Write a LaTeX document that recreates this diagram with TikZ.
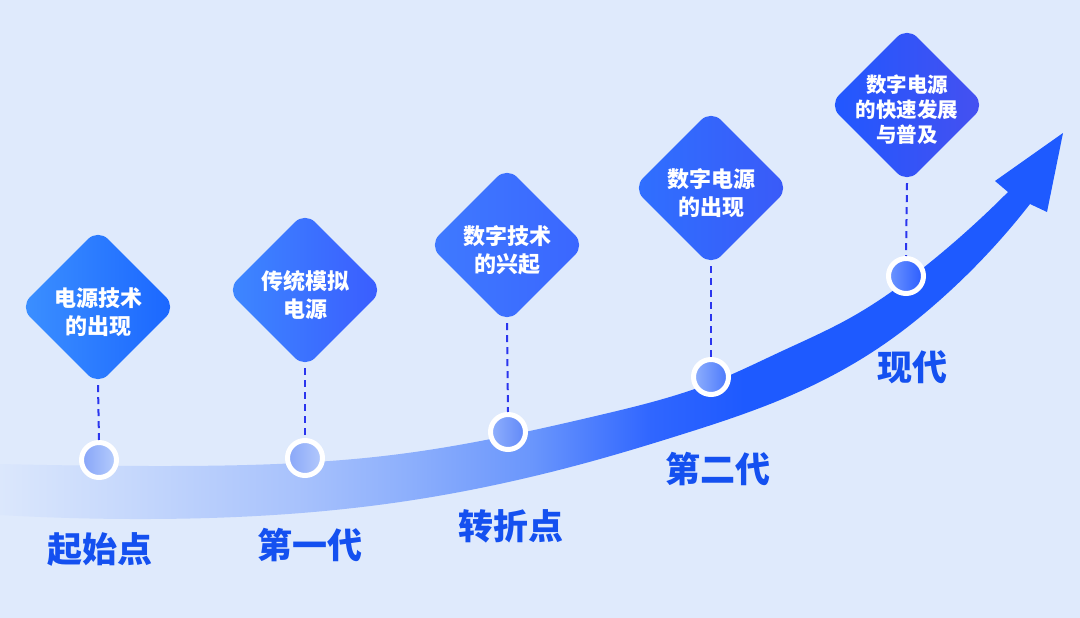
\documentclass[tikz,border=0pt]{standalone}
\usepackage{fontspec}
\newfontfamily\cjk{Noto Sans CJK SC}
\usetikzlibrary{shapes.geometric,hobby}
\usepackage{xcolor}
\definecolor{bgblue}{RGB}{223,234,252}
\definecolor{erablue}{RGB}{20,80,240}
\definecolor{stemblue}{RGB}{42,53,238}
\definecolor{bandA}{RGB}{219,231,252}
\definecolor{bandB}{RGB}{198,216,252}
\definecolor{bandC}{RGB}{168,194,252}
\definecolor{bandD}{RGB}{142,176,252}
\definecolor{bandE}{RGB}{106,150,252}
\definecolor{bandF}{RGB}{48,102,255}
\definecolor{bandG}{RGB}{30,90,255}
\pgfdeclarehorizontalshading{bandshade}{100bp}{color(0bp)=(bandA); color(25bp)=(bandA); color(31bp)=(bandB); color(39bp)=(bandC); color(44bp)=(bandD); color(50bp)=(bandE); color(55.6bp)=(bandF); color(60bp)=(bandG); color(100bp)=(bandG)}

\begin{document}
\begin{tikzpicture}[x=1pt, y=-1pt,
  gem/.style={diamond, minimum size=156pt, inner sep=0pt, rounded corners=14pt, shading angle=-45},
  gemtext/.style={text=white, font=\cjk\bfseries\fontsize{22}{28}\selectfont, align=center, yshift=-5pt},
  dot/.style={circle, minimum size=35pt, inner sep=0pt, draw=white, line width=5pt, shading angle=-45},
  era/.style={text=erablue, font=\cjk\bfseries\fontsize{35}{38}\selectfont},
  stem/.style={draw=stemblue, line width=2pt, dash pattern=on 7pt off 5pt}]
\fill[bgblue] (0,0) rectangle (1080,618);
% rising band with arrow head
\shade[shading=bandshade, use Hobby shortcut] (0,464) .. (150,466) .. (400,454) .. (600,415) .. (711,383) .. (780,352) .. (850,318) .. (933,260) .. (1008,192)
  -- (995,181) -- (1063,133) -- (1047,212) -- (1030,204)
  .. (940,300) .. (880,347) .. (780,400) .. (680,435) .. (600,459) .. (400,502) .. (150,519) .. (0,515) -- cycle;
% milestones
\node[gem, left color={rgb,255:red,60;green,144;blue,255}, right color={rgb,255:red,26;green,102;blue,255}, label={[gemtext]center:{电源技术\\的出现}}] (d1) at (98,307) {};
\node[gem, left color={rgb,255:red,61;green,136;blue,255}, right color={rgb,255:red,58;green,92;blue,255}, label={[gemtext]center:{传统模拟\\电源}}] (d2) at (305,290) {};
\node[gem, left color={rgb,255:red,63;green,122;blue,255}, right color={rgb,255:red,58;green,102;blue,255}, label={[gemtext]center:{数字技术\\的兴起}}] (d3) at (507,245) {};
\node[gem, left color={rgb,255:red,47;green,112;blue,255}, right color={rgb,255:red,58;green,90;blue,248}, label={[gemtext]center:{数字电源\\的出现}}] (d4) at (711,188) {};
\node[gem, left color={rgb,255:red,32;green,88;blue,255}, right color={rgb,255:red,70;green,80;blue,240}, label={[gemtext, font=\cjk\bfseries\fontsize{20.5}{25}\selectfont]center:{数字电源\\的快速发展\\与普及}}] (d5) at (907,105) {};
\node[dot, left color={rgb,255:red,134;green,164;blue,248}, right color={rgb,255:red,182;green,205;blue,252}] (c1) at (99,460) {};
\node[dot, left color={rgb,255:red,136;green,166;blue,248}, right color={rgb,255:red,180;green,202;blue,252}] (c2) at (305,458) {};
\node[dot, left color={rgb,255:red,144;green,176;blue,252}, right color={rgb,255:red,96;green,136;blue,248}] (c3) at (508,432) {};
\node[dot, left color={rgb,255:red,144;green,176;blue,252}, right color={rgb,255:red,74;green,120;blue,252}] (c4) at (711,377) {};
\node[dot, left color={rgb,255:red,110;green,150;blue,255}, right color={rgb,255:red,42;green,92;blue,255}] (c5) at (906,276) {};
\draw[stem] (d1.south) -- (c1.north);
\draw[stem] (d2.south) -- (c2.north);
\draw[stem] (d3.south) -- (c3.north);
\draw[stem] (d4.south) -- (c4.north);
\draw[stem] (d5.south) -- (c5.north);
% era labels
\node[era] (l1) at (100,549) {起始点};
\node[era] (l2) at (310,545) {第一代};
\node[era] (l3) at (511,526) {转折点};
\node[era] (l4) at (718,469) {第二代};
\node[era] (l5) at (912,367) {现代};
\end{tikzpicture}
\end{document}
